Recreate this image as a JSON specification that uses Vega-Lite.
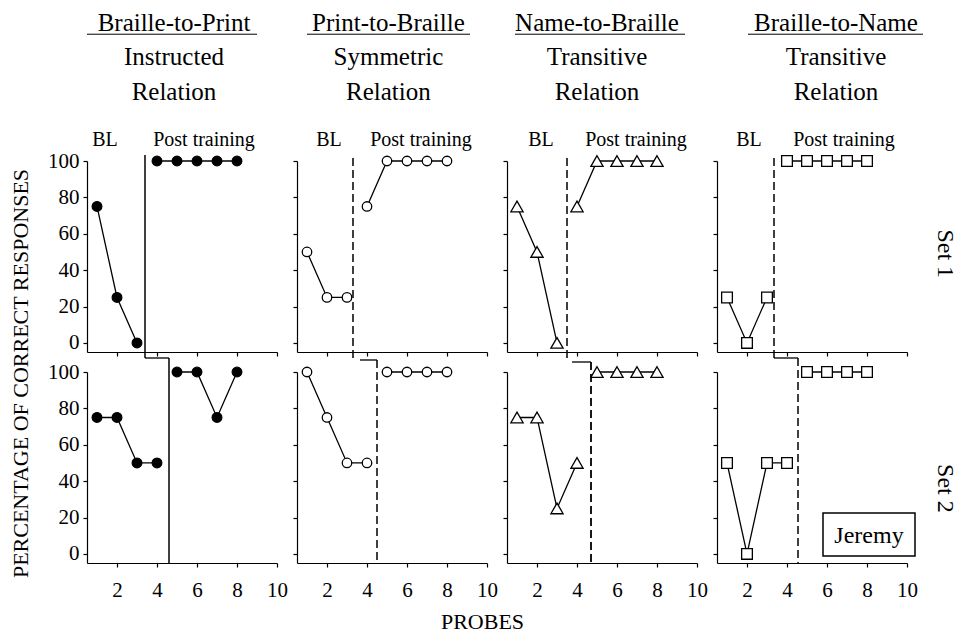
{
"$schema": "https://vega.github.io/schema/vega-lite/v6.json",
"padding": {"left": 8, "top": 11, "right": 5, "bottom": 5},
"background": "white",
"data": {"values": [
{"rel":1,"set":1,"kind":"pt","phase":"b","probe":1,"pct":75},
{"rel":1,"set":1,"kind":"pt","phase":"b","probe":2,"pct":25},
{"rel":1,"set":1,"kind":"pt","phase":"b","probe":3,"pct":0},
{"rel":1,"set":1,"kind":"pt","phase":"p","probe":4,"pct":100},
{"rel":1,"set":1,"kind":"pt","phase":"p","probe":5,"pct":100},
{"rel":1,"set":1,"kind":"pt","phase":"p","probe":6,"pct":100},
{"rel":1,"set":1,"kind":"pt","phase":"p","probe":7,"pct":100},
{"rel":1,"set":1,"kind":"pt","phase":"p","probe":8,"pct":100},
{"rel":1,"set":2,"kind":"pt","phase":"b","probe":1,"pct":75},
{"rel":1,"set":2,"kind":"pt","phase":"b","probe":2,"pct":75},
{"rel":1,"set":2,"kind":"pt","phase":"b","probe":3,"pct":50},
{"rel":1,"set":2,"kind":"pt","phase":"b","probe":4,"pct":50},
{"rel":1,"set":2,"kind":"pt","phase":"p","probe":5,"pct":100},
{"rel":1,"set":2,"kind":"pt","phase":"p","probe":6,"pct":100},
{"rel":1,"set":2,"kind":"pt","phase":"p","probe":7,"pct":75},
{"rel":1,"set":2,"kind":"pt","phase":"p","probe":8,"pct":100},
{"rel":2,"set":1,"kind":"pt","phase":"b","probe":1,"pct":50},
{"rel":2,"set":1,"kind":"pt","phase":"b","probe":2,"pct":25},
{"rel":2,"set":1,"kind":"pt","phase":"b","probe":3,"pct":25},
{"rel":2,"set":1,"kind":"pt","phase":"p","probe":4,"pct":75},
{"rel":2,"set":1,"kind":"pt","phase":"p","probe":5,"pct":100},
{"rel":2,"set":1,"kind":"pt","phase":"p","probe":6,"pct":100},
{"rel":2,"set":1,"kind":"pt","phase":"p","probe":7,"pct":100},
{"rel":2,"set":1,"kind":"pt","phase":"p","probe":8,"pct":100},
{"rel":2,"set":2,"kind":"pt","phase":"b","probe":1,"pct":100},
{"rel":2,"set":2,"kind":"pt","phase":"b","probe":2,"pct":75},
{"rel":2,"set":2,"kind":"pt","phase":"b","probe":3,"pct":50},
{"rel":2,"set":2,"kind":"pt","phase":"b","probe":4,"pct":50},
{"rel":2,"set":2,"kind":"pt","phase":"p","probe":5,"pct":100},
{"rel":2,"set":2,"kind":"pt","phase":"p","probe":6,"pct":100},
{"rel":2,"set":2,"kind":"pt","phase":"p","probe":7,"pct":100},
{"rel":2,"set":2,"kind":"pt","phase":"p","probe":8,"pct":100},
{"rel":3,"set":1,"kind":"pt","phase":"b","probe":1,"pct":75},
{"rel":3,"set":1,"kind":"pt","phase":"b","probe":2,"pct":50},
{"rel":3,"set":1,"kind":"pt","phase":"b","probe":3,"pct":0},
{"rel":3,"set":1,"kind":"pt","phase":"p","probe":4,"pct":75},
{"rel":3,"set":1,"kind":"pt","phase":"p","probe":5,"pct":100},
{"rel":3,"set":1,"kind":"pt","phase":"p","probe":6,"pct":100},
{"rel":3,"set":1,"kind":"pt","phase":"p","probe":7,"pct":100},
{"rel":3,"set":1,"kind":"pt","phase":"p","probe":8,"pct":100},
{"rel":3,"set":2,"kind":"pt","phase":"b","probe":1,"pct":75},
{"rel":3,"set":2,"kind":"pt","phase":"b","probe":2,"pct":75},
{"rel":3,"set":2,"kind":"pt","phase":"b","probe":3,"pct":25},
{"rel":3,"set":2,"kind":"pt","phase":"b","probe":4,"pct":50},
{"rel":3,"set":2,"kind":"pt","phase":"p","probe":5,"pct":100},
{"rel":3,"set":2,"kind":"pt","phase":"p","probe":6,"pct":100},
{"rel":3,"set":2,"kind":"pt","phase":"p","probe":7,"pct":100},
{"rel":3,"set":2,"kind":"pt","phase":"p","probe":8,"pct":100},
{"rel":4,"set":1,"kind":"pt","phase":"b","probe":1,"pct":25},
{"rel":4,"set":1,"kind":"pt","phase":"b","probe":2,"pct":0},
{"rel":4,"set":1,"kind":"pt","phase":"b","probe":3,"pct":25},
{"rel":4,"set":1,"kind":"pt","phase":"p","probe":4,"pct":100},
{"rel":4,"set":1,"kind":"pt","phase":"p","probe":5,"pct":100},
{"rel":4,"set":1,"kind":"pt","phase":"p","probe":6,"pct":100},
{"rel":4,"set":1,"kind":"pt","phase":"p","probe":7,"pct":100},
{"rel":4,"set":1,"kind":"pt","phase":"p","probe":8,"pct":100},
{"rel":4,"set":2,"kind":"pt","phase":"b","probe":1,"pct":50},
{"rel":4,"set":2,"kind":"pt","phase":"b","probe":2,"pct":0},
{"rel":4,"set":2,"kind":"pt","phase":"b","probe":3,"pct":50},
{"rel":4,"set":2,"kind":"pt","phase":"b","probe":4,"pct":50},
{"rel":4,"set":2,"kind":"pt","phase":"p","probe":5,"pct":100},
{"rel":4,"set":2,"kind":"pt","phase":"p","probe":6,"pct":100},
{"rel":4,"set":2,"kind":"pt","phase":"p","probe":7,"pct":100},
{"rel":4,"set":2,"kind":"pt","phase":"p","probe":8,"pct":100},
{"rel":1,"set":1,"kind":"v","probe":3.4,"pct":103.3,"pct2":-8.3},
{"rel":1,"set":2,"kind":"v","probe":4.6,"pct":107.7,"pct2":-5},
{"rel":2,"set":1,"kind":"v","probe":3.3,"pct":101.6,"pct2":-9.4},
{"rel":2,"set":2,"kind":"v","probe":4.5,"pct":106.6,"pct2":-5},
{"rel":3,"set":1,"kind":"v","probe":3.5,"pct":101.6,"pct2":-9.4},
{"rel":3,"set":2,"kind":"v","probe":4.7,"pct":105.5,"pct2":-5},
{"rel":4,"set":1,"kind":"v","probe":3.35,"pct":101.6,"pct2":-8.3},
{"rel":4,"set":2,"kind":"v","probe":4.55,"pct":107.7,"pct2":-5},
{"rel":1,"set":2,"kind":"h","probe":3.4,"probe2":4.6,"pct":107.7},
{"rel":2,"set":2,"kind":"h","probe":3.65,"probe2":4.5,"pct":106.6},
{"rel":3,"set":2,"kind":"h","probe":3.75,"probe2":4.7,"pct":105.5},
{"rel":4,"set":2,"kind":"h","probe":3.35,"probe2":4.55,"pct":107.7},
{"rel":1,"set":1,"kind":"lab","probe":1.4,"pct":108.5,"txt":"BL"},
{"rel":1,"set":1,"kind":"lab","probe":6.35,"pct":108.5,"txt":"Post training"},
{"rel":2,"set":1,"kind":"lab","probe":2.1,"pct":108.5,"txt":"BL"},
{"rel":2,"set":1,"kind":"lab","probe":6.7,"pct":108.5,"txt":"Post training"},
{"rel":3,"set":1,"kind":"lab","probe":2.2,"pct":108.5,"txt":"BL"},
{"rel":3,"set":1,"kind":"lab","probe":6.95,"pct":108.5,"txt":"Post training"},
{"rel":4,"set":1,"kind":"lab","probe":2.1,"pct":108.5,"txt":"BL"},
{"rel":4,"set":1,"kind":"lab","probe":6.85,"pct":108.5,"txt":"Post training"},
{"rel":1,"set":1,"kind":"t","probe":4.85,"pct":171.4,"txt":"Braille-to-Print"},
{"rel":1,"set":1,"kind":"t","probe":4.85,"pct":152.8,"txt":"Instructed"},
{"rel":1,"set":1,"kind":"t","probe":4.85,"pct":133.5,"txt":"Relation"},
{"rel":2,"set":1,"kind":"t","probe":5.07,"pct":171.4,"txt":"Print-to-Braille"},
{"rel":2,"set":1,"kind":"t","probe":5.07,"pct":152.8,"txt":"Symmetric"},
{"rel":2,"set":1,"kind":"t","probe":5.07,"pct":133.5,"txt":"Relation"},
{"rel":3,"set":1,"kind":"t","probe":5.0,"pct":171.4,"txt":"Name-to-Braille"},
{"rel":3,"set":1,"kind":"t","probe":5.0,"pct":152.8,"txt":"Transitive"},
{"rel":3,"set":1,"kind":"t","probe":5.0,"pct":133.5,"txt":"Relation"},
{"rel":4,"set":1,"kind":"t","probe":6.45,"pct":171.4,"txt":"Braille-to-Name"},
{"rel":4,"set":1,"kind":"t","probe":6.45,"pct":152.8,"txt":"Transitive"},
{"rel":4,"set":1,"kind":"t","probe":6.45,"pct":133.5,"txt":"Relation"},
{"rel":1,"set":1,"kind":"ul","probe":0.5,"probe2":9.0,"pct":169.7},
{"rel":2,"set":1,"kind":"ul","probe":1.0,"probe2":9.15,"pct":169.7},
{"rel":3,"set":1,"kind":"ul","probe":0.9,"probe2":9.4,"pct":169.7},
{"rel":4,"set":1,"kind":"ul","probe":2.05,"probe2":10.8,"pct":169.7},
{"rel":4,"set":1,"kind":"row","probe":11.9,"pct":49,"txt":"Set 1"},
{"rel":4,"set":2,"kind":"row","probe":11.9,"pct":36,"txt":"Set 2"},
{"rel":4,"set":2,"kind":"box","probe":5.8,"probe2":10.4,"pct":22.5,"pct2":-1.1},
{"rel":4,"set":2,"kind":"name","probe":8.1,"pct":6.0,"txt":"Jeremy"}
]},
"columns": 4,
"spacing": 20,
"bounds": "flush",
"concat": [
{
 "width": 190, "height": 191,
 "transform": [{"filter": "datum.rel==1 && datum.set==1"}],
 "encoding": {
  "x": {"field": "probe", "type": "quantitative", "scale": {"domain": [0.5, 10], "nice": false, "zero": false}, "axis": {"values": [2,4,6,8,10], "labels": false, "title": null}},
  "y": {"field": "pct", "type": "quantitative", "scale": {"domain": [-5, 100], "nice": false, "zero": false}, "axis": {"values": [0,20,40,60,80,100], "labels": true, "title": "PERCENTAGE OF CORRECT RESPONSES", "titleX": -60, "titleY": 212, "titleAngle": 270, "titleAlign": "center", "titleBaseline": "alphabetic"}}
 },
 "layer": [
  {"transform": [{"filter": "datum.kind=='pt'"}], "mark": {"type": "line", "color": "black", "strokeWidth": 1.3}, "encoding": {"detail": {"field": "phase", "type": "nominal"}}},
  {"transform": [{"filter": "datum.kind=='pt'"}], "mark": {"type": "point", "shape": "circle", "filled": true, "fill": "black", "stroke": "black", "strokeWidth": 1.2, "size": 95, "opacity": 1}},
  {"transform": [{"filter": "datum.kind=='v'"}], "mark": {"type": "rule", "color": "black", "strokeWidth": 1.5}, "encoding": {"y2": {"field": "pct2"}}},
  {"transform": [{"filter": "datum.kind=='lab'"}], "mark": {"type": "text", "fontSize": 20, "baseline": "alphabetic"}, "encoding": {"text": {"field": "txt"}}},
  {"transform": [{"filter": "datum.kind=='t'"}], "mark": {"type": "text", "fontSize": 25, "baseline": "alphabetic"}, "encoding": {"text": {"field": "txt"}}},
  {"transform": [{"filter": "datum.kind=='ul'"}], "mark": {"type": "rule", "color": "black", "strokeWidth": 1}, "encoding": {"x2": {"field": "probe2"}}}
 ]
},
{
 "width": 190, "height": 191,
 "transform": [{"filter": "datum.rel==2 && datum.set==1"}],
 "encoding": {
  "x": {"field": "probe", "type": "quantitative", "scale": {"domain": [0.5, 10], "nice": false, "zero": false}, "axis": {"values": [2,4,6,8,10], "labels": false, "title": null}},
  "y": {"field": "pct", "type": "quantitative", "scale": {"domain": [-5, 100], "nice": false, "zero": false}, "axis": {"values": [0,20,40,60,80,100], "labels": false, "title": null}}
 },
 "layer": [
  {"transform": [{"filter": "datum.kind=='pt'"}], "mark": {"type": "line", "color": "black", "strokeWidth": 1.3}, "encoding": {"detail": {"field": "phase", "type": "nominal"}}},
  {"transform": [{"filter": "datum.kind=='pt'"}], "mark": {"type": "point", "shape": "circle", "filled": true, "fill": "white", "stroke": "black", "strokeWidth": 1.3, "size": 90, "opacity": 1}},
  {"transform": [{"filter": "datum.kind=='v'"}], "mark": {"type": "rule", "color": "black", "strokeWidth": 1.5, "strokeDash": [8, 4]}, "encoding": {"y2": {"field": "pct2"}}},
  {"transform": [{"filter": "datum.kind=='lab'"}], "mark": {"type": "text", "fontSize": 20, "baseline": "alphabetic"}, "encoding": {"text": {"field": "txt"}}},
  {"transform": [{"filter": "datum.kind=='t'"}], "mark": {"type": "text", "fontSize": 25, "baseline": "alphabetic"}, "encoding": {"text": {"field": "txt"}}},
  {"transform": [{"filter": "datum.kind=='ul'"}], "mark": {"type": "rule", "color": "black", "strokeWidth": 1}, "encoding": {"x2": {"field": "probe2"}}}
 ]
},
{
 "width": 190, "height": 191,
 "transform": [{"filter": "datum.rel==3 && datum.set==1"}],
 "encoding": {
  "x": {"field": "probe", "type": "quantitative", "scale": {"domain": [0.5, 10], "nice": false, "zero": false}, "axis": {"values": [2,4,6,8,10], "labels": false, "title": null}},
  "y": {"field": "pct", "type": "quantitative", "scale": {"domain": [-5, 100], "nice": false, "zero": false}, "axis": {"values": [0,20,40,60,80,100], "labels": false, "title": null}}
 },
 "layer": [
  {"transform": [{"filter": "datum.kind=='pt'"}], "mark": {"type": "line", "color": "black", "strokeWidth": 1.3}, "encoding": {"detail": {"field": "phase", "type": "nominal"}}},
  {"transform": [{"filter": "datum.kind=='pt'"}], "mark": {"type": "point", "shape": "triangle-up", "filled": true, "fill": "white", "stroke": "black", "strokeWidth": 1.3, "size": 150, "opacity": 1}},
  {"transform": [{"filter": "datum.kind=='v'"}], "mark": {"type": "rule", "color": "black", "strokeWidth": 1.5, "strokeDash": [8, 4]}, "encoding": {"y2": {"field": "pct2"}}},
  {"transform": [{"filter": "datum.kind=='lab'"}], "mark": {"type": "text", "fontSize": 20, "baseline": "alphabetic"}, "encoding": {"text": {"field": "txt"}}},
  {"transform": [{"filter": "datum.kind=='t'"}], "mark": {"type": "text", "fontSize": 25, "baseline": "alphabetic"}, "encoding": {"text": {"field": "txt"}}},
  {"transform": [{"filter": "datum.kind=='ul'"}], "mark": {"type": "rule", "color": "black", "strokeWidth": 1}, "encoding": {"x2": {"field": "probe2"}}}
 ]
},
{
 "width": 190, "height": 191,
 "transform": [{"filter": "datum.rel==4 && datum.set==1"}],
 "encoding": {
  "x": {"field": "probe", "type": "quantitative", "scale": {"domain": [0.5, 10], "nice": false, "zero": false}, "axis": {"values": [2,4,6,8,10], "labels": false, "title": null}},
  "y": {"field": "pct", "type": "quantitative", "scale": {"domain": [-5, 100], "nice": false, "zero": false}, "axis": {"values": [0,20,40,60,80,100], "labels": false, "title": null}}
 },
 "layer": [
  {"transform": [{"filter": "datum.kind=='pt'"}], "mark": {"type": "line", "color": "black", "strokeWidth": 1.3}, "encoding": {"detail": {"field": "phase", "type": "nominal"}}},
  {"transform": [{"filter": "datum.kind=='pt'"}], "mark": {"type": "point", "shape": "square", "filled": true, "fill": "white", "stroke": "black", "strokeWidth": 1.3, "size": 115, "opacity": 1}},
  {"transform": [{"filter": "datum.kind=='v'"}], "mark": {"type": "rule", "color": "black", "strokeWidth": 1.5, "strokeDash": [8, 4]}, "encoding": {"y2": {"field": "pct2"}}},
  {"transform": [{"filter": "datum.kind=='lab'"}], "mark": {"type": "text", "fontSize": 20, "baseline": "alphabetic"}, "encoding": {"text": {"field": "txt"}}},
  {"transform": [{"filter": "datum.kind=='t'"}], "mark": {"type": "text", "fontSize": 25, "baseline": "alphabetic"}, "encoding": {"text": {"field": "txt"}}},
  {"transform": [{"filter": "datum.kind=='ul'"}], "mark": {"type": "rule", "color": "black", "strokeWidth": 1}, "encoding": {"x2": {"field": "probe2"}}},
  {"transform": [{"filter": "datum.kind=='row'"}], "mark": {"type": "text", "fontSize": 24, "angle": 90, "baseline": "middle"}, "encoding": {"text": {"field": "txt"}}}
 ]
},
{
 "width": 190, "height": 191,
 "transform": [{"filter": "datum.rel==1 && datum.set==2"}],
 "encoding": {
  "x": {"field": "probe", "type": "quantitative", "scale": {"domain": [0.5, 10], "nice": false, "zero": false}, "axis": {"values": [2,4,6,8,10], "labels": true, "title": null}},
  "y": {"field": "pct", "type": "quantitative", "scale": {"domain": [-5, 100], "nice": false, "zero": false}, "axis": {"values": [0,20,40,60,80,100], "labels": true, "title": null}}
 },
 "layer": [
  {"transform": [{"filter": "datum.kind=='pt'"}], "mark": {"type": "line", "color": "black", "strokeWidth": 1.3}, "encoding": {"detail": {"field": "phase", "type": "nominal"}}},
  {"transform": [{"filter": "datum.kind=='pt'"}], "mark": {"type": "point", "shape": "circle", "filled": true, "fill": "black", "stroke": "black", "strokeWidth": 1.2, "size": 95, "opacity": 1}},
  {"transform": [{"filter": "datum.kind=='v'"}], "mark": {"type": "rule", "color": "black", "strokeWidth": 1.5}, "encoding": {"y2": {"field": "pct2"}}},
  {"transform": [{"filter": "datum.kind=='h'"}], "mark": {"type": "rule", "color": "black", "strokeWidth": 1.3}, "encoding": {"x2": {"field": "probe2"}}}
 ]
},
{
 "width": 190, "height": 191,
 "transform": [{"filter": "datum.rel==2 && datum.set==2"}],
 "encoding": {
  "x": {"field": "probe", "type": "quantitative", "scale": {"domain": [0.5, 10], "nice": false, "zero": false}, "axis": {"values": [2,4,6,8,10], "labels": true, "title": "PROBES", "titleX": 185, "titleY": 65, "titleAlign": "center", "titleBaseline": "alphabetic"}},
  "y": {"field": "pct", "type": "quantitative", "scale": {"domain": [-5, 100], "nice": false, "zero": false}, "axis": {"values": [0,20,40,60,80,100], "labels": false, "title": null}}
 },
 "layer": [
  {"transform": [{"filter": "datum.kind=='pt'"}], "mark": {"type": "line", "color": "black", "strokeWidth": 1.3}, "encoding": {"detail": {"field": "phase", "type": "nominal"}}},
  {"transform": [{"filter": "datum.kind=='pt'"}], "mark": {"type": "point", "shape": "circle", "filled": true, "fill": "white", "stroke": "black", "strokeWidth": 1.3, "size": 90, "opacity": 1}},
  {"transform": [{"filter": "datum.kind=='v'"}], "mark": {"type": "rule", "color": "black", "strokeWidth": 1.5, "strokeDash": [8, 4]}, "encoding": {"y2": {"field": "pct2"}}},
  {"transform": [{"filter": "datum.kind=='h'"}], "mark": {"type": "rule", "color": "black", "strokeWidth": 1.3}, "encoding": {"x2": {"field": "probe2"}}}
 ]
},
{
 "width": 190, "height": 191,
 "transform": [{"filter": "datum.rel==3 && datum.set==2"}],
 "encoding": {
  "x": {"field": "probe", "type": "quantitative", "scale": {"domain": [0.5, 10], "nice": false, "zero": false}, "axis": {"values": [2,4,6,8,10], "labels": true, "title": null}},
  "y": {"field": "pct", "type": "quantitative", "scale": {"domain": [-5, 100], "nice": false, "zero": false}, "axis": {"values": [0,20,40,60,80,100], "labels": false, "title": null}}
 },
 "layer": [
  {"transform": [{"filter": "datum.kind=='pt'"}], "mark": {"type": "line", "color": "black", "strokeWidth": 1.3}, "encoding": {"detail": {"field": "phase", "type": "nominal"}}},
  {"transform": [{"filter": "datum.kind=='pt'"}], "mark": {"type": "point", "shape": "triangle-up", "filled": true, "fill": "white", "stroke": "black", "strokeWidth": 1.3, "size": 150, "opacity": 1}},
  {"transform": [{"filter": "datum.kind=='v'"}], "mark": {"type": "rule", "color": "black", "strokeWidth": 1.8, "strokeDash": [8, 4]}, "encoding": {"y2": {"field": "pct2"}}},
  {"transform": [{"filter": "datum.kind=='h'"}], "mark": {"type": "rule", "color": "black", "strokeWidth": 1.3}, "encoding": {"x2": {"field": "probe2"}}}
 ]
},
{
 "width": 190, "height": 191,
 "transform": [{"filter": "datum.rel==4 && datum.set==2"}],
 "encoding": {
  "x": {"field": "probe", "type": "quantitative", "scale": {"domain": [0.5, 10], "nice": false, "zero": false}, "axis": {"values": [2,4,6,8,10], "labels": true, "title": null}},
  "y": {"field": "pct", "type": "quantitative", "scale": {"domain": [-5, 100], "nice": false, "zero": false}, "axis": {"values": [0,20,40,60,80,100], "labels": false, "title": null}}
 },
 "layer": [
  {"transform": [{"filter": "datum.kind=='pt'"}], "mark": {"type": "line", "color": "black", "strokeWidth": 1.3}, "encoding": {"detail": {"field": "phase", "type": "nominal"}}},
  {"transform": [{"filter": "datum.kind=='pt'"}], "mark": {"type": "point", "shape": "square", "filled": true, "fill": "white", "stroke": "black", "strokeWidth": 1.3, "size": 115, "opacity": 1}},
  {"transform": [{"filter": "datum.kind=='v'"}], "mark": {"type": "rule", "color": "black", "strokeWidth": 1.5, "strokeDash": [8, 4]}, "encoding": {"y2": {"field": "pct2"}}},
  {"transform": [{"filter": "datum.kind=='h'"}], "mark": {"type": "rule", "color": "black", "strokeWidth": 1.3}, "encoding": {"x2": {"field": "probe2"}}},
  {"transform": [{"filter": "datum.kind=='row'"}], "mark": {"type": "text", "fontSize": 24, "angle": 90, "baseline": "middle"}, "encoding": {"text": {"field": "txt"}}},
  {"transform": [{"filter": "datum.kind=='box'"}], "mark": {"type": "rect", "fill": "white", "fillOpacity": 0, "stroke": "black", "strokeWidth": 1.5}, "encoding": {"x2": {"field": "probe2"}, "y2": {"field": "pct2"}}},
  {"transform": [{"filter": "datum.kind=='name'"}], "mark": {"type": "text", "fontSize": 24, "baseline": "alphabetic"}, "encoding": {"text": {"field": "txt"}}}
 ]
}
],
"config": {
 "view": {"stroke": null},
 "axis": {"grid": false, "domainColor": "black", "tickColor": "black", "domainWidth": 1.2, "tickWidth": 1.2, "tickSize": 4, "labelFont": "Liberation Serif", "labelFontSize": 21, "labelColor": "black", "labelFlush": false, "labelOverlap": false, "titleFont": "Liberation Serif", "titleFontSize": 22, "titleFontWeight": "normal", "titleColor": "black"},
 "axisX": {"labelPadding": 12},
 "axisY": {"labelPadding": 4},
 "text": {"font": "Liberation Serif", "color": "black"}
}
}
